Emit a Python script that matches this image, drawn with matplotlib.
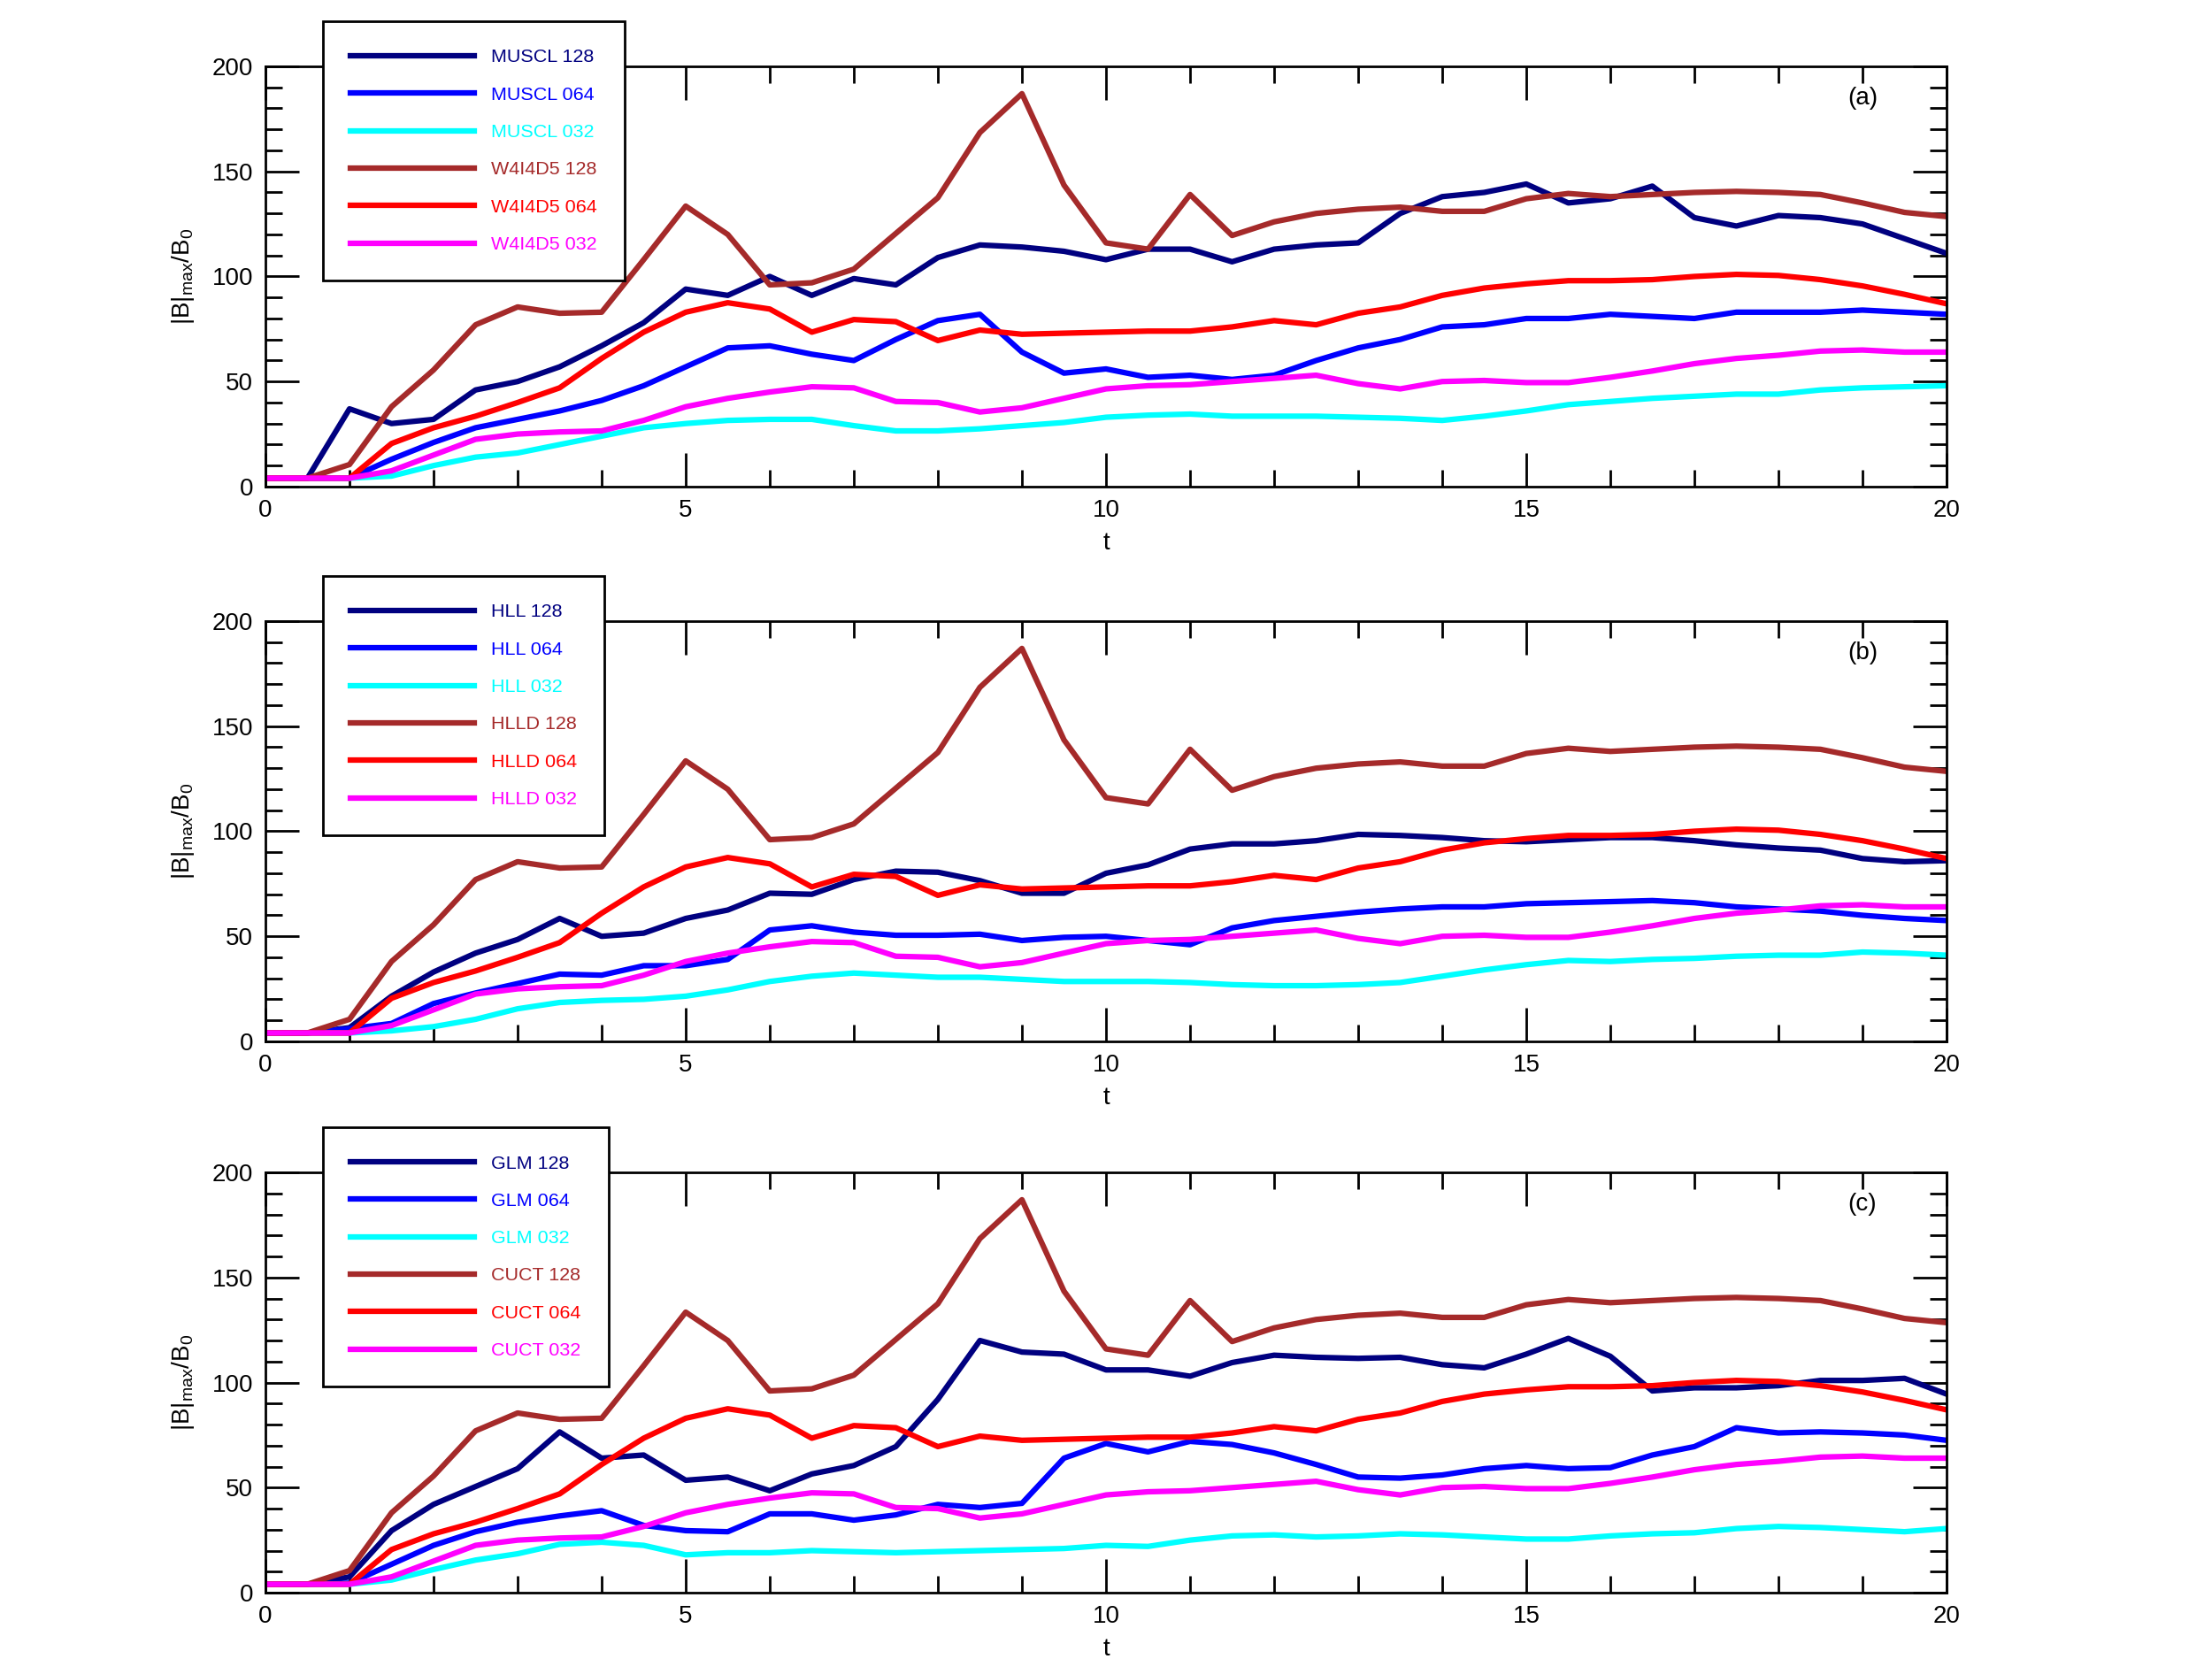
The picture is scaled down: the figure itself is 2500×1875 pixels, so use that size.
import numpy as np
import matplotlib
matplotlib.use('Agg')
import matplotlib.pyplot as plt
from matplotlib.ticker import MultipleLocator

# time samples (every 0.5 from 0 to 20)
t = np.linspace(0, 20, 41)

# panel (a)
muscl_128 = [4, 4, 37, 30, 32, 46, 50, 57, 67, 78, 94,
             91, 100, 91, 99, 96, 109, 115, 114, 112, 108,
             113, 113, 107, 113, 115, 116, 130, 138, 140, 144,
             135, 137, 143, 128, 124, 129, 128, 125, 118, 111]
muscl_064 = [4, 4, 4, 13, 21, 28, 32, 36, 41, 48, 57,
             66, 67, 63, 60, 70, 79, 82, 64, 54, 56,
             52, 53, 51, 53, 60, 66, 70, 76, 77, 80,
             80, 82, 81, 80, 83, 83, 83, 84, 83, 82]
muscl_032 = [4, 4, 4, 5, 10, 14, 16, 20, 24, 28, 30,
             31.5, 32, 32, 29, 26.5, 26.5, 27.5, 29, 30.5, 33,
             34, 34.5, 33.5, 33.5, 33.5, 33, 32.5, 31.5, 33.5, 36,
             39, 40.5, 42, 43, 44, 44, 46, 47, 47.5, 48]
# the high-order (W4I4D5 / HLLD / CUCT) curves are the same in all three panels
w4_128 = [4, 4, 10.5, 38, 55.5, 77, 85.5, 82.5, 83, 108, 133.5,
          120, 96, 97, 103.5, 120.5, 137.5, 168.5, 187, 143.5, 116,
          113, 139, 119.5, 126, 130, 132, 133, 131, 131, 137,
          139.5, 138, 139, 140, 140.5, 140, 139, 135, 130.5, 128.5]
w4_064 = [4, 4, 4, 20.5, 28, 33.5, 40, 47, 61, 73.5, 83,
          87.5, 84.5, 73.5, 79.5, 78.5, 69.5, 74.5, 72.5, 73, 73.5,
          74, 74, 76, 79, 77, 82.5, 85.5, 91, 94.5, 96.5,
          98, 98, 98.5, 100, 101, 100.5, 98.5, 95.5, 91.5, 87]
w4_032 = [4, 4, 4, 7.5, 15, 22.5, 25, 26, 26.5, 31.5, 38,
          42, 45, 47.5, 47, 40.5, 40, 35.5, 37.5, 42, 46.5,
          48, 48.5, 50, 51.5, 53, 49, 46.5, 50, 50.5, 49.5,
          49.5, 52, 55, 58.5, 61, 62.5, 64.5, 65, 64, 64]

# panel (b)
hll_128 = [4, 4, 6.5, 21.5, 33, 42, 48.5, 58.5, 50, 51.5, 58.5,
           62.5, 70.5, 70, 77, 81, 80.5, 76.5, 70.5, 70.5, 80,
           84, 91.5, 94, 94, 95.5, 98.5, 98, 97, 95.5, 95,
           96, 97, 97, 95.5, 93.5, 92, 91, 87, 85.5, 86]
hll_064 = [4, 4, 6, 8.5, 18, 23, 27.5, 32, 31.5, 36, 36,
           39, 53, 55, 52, 50.5, 50.5, 51, 48, 49.5, 50,
           48, 46, 54, 57.5, 59.5, 61.5, 63, 64, 64, 65.5,
           66, 66.5, 67, 66, 64, 63, 62, 60, 58.5, 57.5]
hll_032 = [4, 4, 4, 5, 7, 10.5, 15.5, 18.5, 19.5, 20, 21.5,
           24.5, 28.5, 31, 32.5, 31.5, 30.5, 30.5, 29.5, 28.5, 28.5,
           28.5, 28, 27, 26.5, 26.5, 27, 28, 31, 34, 36.5,
           38.5, 38, 39, 39.5, 40.5, 41, 41, 42.5, 42, 41]

# panel (c)
glm_128 = [4, 4, 7.5, 29.5, 42, 50.5, 59, 76.5, 64, 65.5, 53.5,
           55, 48.5, 56.5, 60.5, 69.5, 92, 120, 114.5, 113.5, 106,
           106, 103, 109.5, 113, 112, 111.5, 112, 108.5, 107, 113.5,
           121, 112.5, 96, 97.5, 97.5, 98.5, 101, 101, 102, 94.5]
glm_064 = [4, 4, 4.5, 13.5, 22.5, 29, 33.5, 36.5, 39, 32, 29.5,
           29, 37.5, 37.5, 34.5, 37, 42, 40.5, 42.5, 64, 71,
           67, 72, 70.5, 66.5, 61, 55, 54.5, 56, 59, 60.5,
           59, 59.5, 65.5, 69.5, 78.5, 76, 76.5, 76, 75, 72.5]
glm_032 = [4, 4, 4, 6, 11, 15.5, 18.5, 23, 24, 22.5, 18,
           19, 19, 20, 19.5, 19, 19.5, 20, 20.5, 21, 22.5,
           22, 25, 27, 27.5, 26.5, 27, 28, 27.5, 26.5, 25.5,
           25.5, 27, 28, 28.5, 30.5, 31.5, 31, 30, 29, 30.5]

colors = ['#000080', '#0000ff', '#00ffff', '#a52a2a', '#ff0000', '#ff00ff']

panels = [
    ('(a)', ['MUSCL 128', 'MUSCL 064', 'MUSCL 032', 'W4I4D5 128', 'W4I4D5 064', 'W4I4D5 032'],
     [muscl_128, muscl_064, muscl_032, w4_128, w4_064, w4_032]),
    ('(b)', ['HLL 128', 'HLL 064', 'HLL 032', 'HLLD 128', 'HLLD 064', 'HLLD 032'],
     [hll_128, hll_064, hll_032, w4_128, w4_064, w4_032]),
    ('(c)', ['GLM 128', 'GLM 064', 'GLM 032', 'CUCT 128', 'CUCT 064', 'CUCT 032'],
     [glm_128, glm_064, glm_032, w4_128, w4_064, w4_032]),
]

plt.rcParams['font.family'] = ['Liberation Sans', 'DejaVu Sans']
plt.rcParams['mathtext.default'] = 'regular'

fig = plt.figure(figsize=(10, 7.5), dpi=250)
bottoms = [0.7067, 0.3723, 0.04]

for (tag, names, series), b in zip(panels, bottoms):
    ax = fig.add_axes([0.12, b, 0.76, 0.2533])
    for name, vals, col in zip(names, series, colors):
        ax.plot(t, vals, color=col, lw=1.8, label=name)

    ax.set_xlim(0, 20)
    ax.set_ylim(0, 200)
    ax.xaxis.set_major_locator(MultipleLocator(5))
    ax.xaxis.set_minor_locator(MultipleLocator(1))
    ax.yaxis.set_major_locator(MultipleLocator(50))
    ax.yaxis.set_minor_locator(MultipleLocator(10))
    ax.tick_params(which='both', direction='in', top=True, right=True,
                   width=0.8, labelsize=8)
    ax.tick_params(which='major', length=11, pad=4)
    ax.tick_params(which='minor', length=5.5)
    for sp in ax.spines.values():
        sp.set_linewidth(0.8)

    ax.set_xlabel('t', fontsize=8, labelpad=3.3)
    ax.set_ylabel(r'$|B|_{max}/B_0$', fontsize=8, labelpad=5)
    ax.text(19, 185, tag, ha='center', va='center', fontsize=8)

    leg = ax.legend(loc='upper left', bbox_to_anchor=(0.034, 1.107),
                    borderaxespad=0, fontsize=6.2, handlelength=6.5,
                    handletextpad=0.9, labelspacing=1.08, borderpad=1.45,
                    fancybox=False, framealpha=1, labelcolor='linecolor')
    leg.get_frame().set_edgecolor('black')
    leg.get_frame().set_linewidth(0.8)

fig.savefig('out.png', dpi=250)
